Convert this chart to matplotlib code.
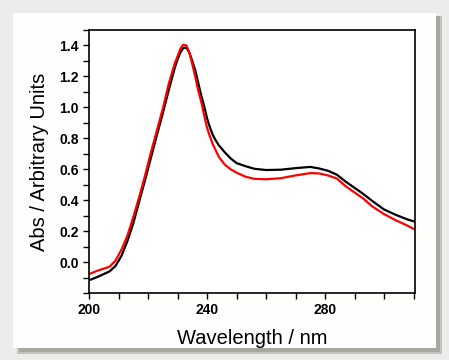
import matplotlib
matplotlib.use("Agg")
import matplotlib.pyplot as plt
from matplotlib.patches import Rectangle
from matplotlib.ticker import MultipleLocator

wavelength = [200, 203, 207, 209, 211, 213, 215, 217, 219, 221, 223, 225, 227, 229,
              230, 231, 232, 233, 234, 235, 236, 237, 238, 239, 240, 241, 242, 243,
              244, 246, 248, 250, 253, 256, 260, 265, 270, 275, 278, 281, 284, 287,
              290, 293, 296, 300, 304, 308, 311]

abs_black = [-0.118, -0.095, -0.06, -0.025, 0.04, 0.135, 0.25, 0.39, 0.53, 0.675, 0.82,
             0.96, 1.11, 1.25, 1.31, 1.355, 1.385, 1.385, 1.355, 1.30, 1.24, 1.16, 1.08,
             1.01, 0.93, 0.87, 0.82, 0.785, 0.755, 0.71, 0.67, 0.64, 0.62, 0.603,
             0.595, 0.597, 0.607, 0.615, 0.605, 0.59, 0.565, 0.52, 0.48, 0.44, 0.395,
             0.34, 0.305, 0.275, 0.258]

abs_red = [-0.078, -0.055, -0.03, 0.01, 0.08, 0.17, 0.29, 0.42, 0.56, 0.71, 0.85,
           0.99, 1.15, 1.28, 1.33, 1.38, 1.405, 1.40, 1.355, 1.28, 1.20, 1.11, 1.04,
           0.95, 0.87, 0.81, 0.76, 0.72, 0.68, 0.63, 0.60, 0.578, 0.552, 0.538,
           0.535, 0.542, 0.56, 0.575, 0.573, 0.56, 0.54, 0.49, 0.45, 0.41, 0.36,
           0.31, 0.27, 0.235, 0.205]

x_ticks = [200, 240, 280]
y_ticks = [0.0, 0.2, 0.4, 0.6, 0.8, 1.0, 1.2, 1.4]

W, H = 449, 360
fig = plt.figure(figsize=(W / 100, H / 100), dpi=100, facecolor="#ececec")

# shadow and panel
fig.patches.append(Rectangle((17 / W, 1 - 354 / H), 425 / W, 338 / H,
                             transform=fig.transFigure, facecolor="#c4c4bc",
                             edgecolor="none", zorder=-3))
fig.patches.append(Rectangle((19 / W, 1 - 352 / H), 421 / W, 336 / H,
                             transform=fig.transFigure, facecolor="#a8a8a0",
                             edgecolor="none", zorder=-2))
fig.patches.append(Rectangle((13 / W, 1 - 348 / H), 423 / W, 335 / H,
                             transform=fig.transFigure, facecolor="#fefefc",
                             edgecolor="none", zorder=-1))

ax = fig.add_axes([89 / W, 1 - 293 / H, (415 - 89) / W, (293 - 30) / H])
ax.set_zorder(2)
ax.set_facecolor("white")
ax.plot(wavelength, abs_black, color="black", lw=1.6)
ax.plot(wavelength, abs_red, color="#ff0000", lw=1.6)

ax.set_xlim(200, 310.5)
ax.set_ylim(-0.2, 1.5)
ax.set_xticks(x_ticks)
ax.xaxis.set_minor_locator(MultipleLocator(10))
ax.set_yticks(y_ticks)
ax.yaxis.set_minor_locator(MultipleLocator(0.1))
ax.set_yticklabels([f"{v:.1f}" for v in y_ticks])

for s in ax.spines.values():
    s.set_linewidth(1.2)
ax.tick_params(which="both", direction="out", top=False, right=False, width=1)
ax.tick_params(which="major", length=4)
ax.tick_params(which="minor", length=4)
for lab in ax.get_xticklabels() + ax.get_yticklabels():
    lab.set_fontfamily("Liberation Sans")
    lab.set_fontweight("bold")
    lab.set_fontsize(10)

ax.set_xlabel("Wavelength / nm", fontfamily="Liberation Sans", fontsize=14.5, labelpad=8)
ax.set_ylabel("Abs / Arbitrary Units", fontfamily="Liberation Sans", fontsize=14.5, labelpad=7)

fig.savefig("out.png", dpi=100, facecolor=fig.get_facecolor())
